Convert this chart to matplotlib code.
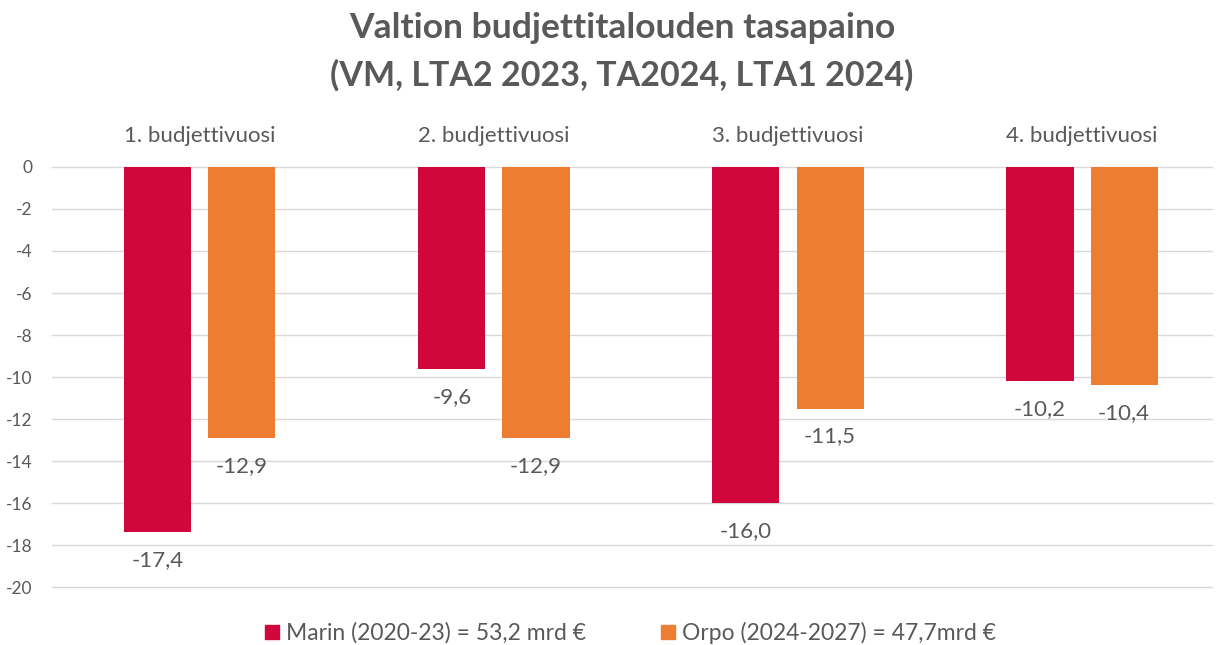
import matplotlib
matplotlib.use("Agg")
import matplotlib.pyplot as plt
import numpy as np
from matplotlib.patches import Patch

categories = ["1. budjettivuosi", "2. budjettivuosi", "3. budjettivuosi", "4. budjettivuosi"]
marin = [-17.4, -9.6, -16.0, -10.2]
orpo = [-12.9, -12.9, -11.5, -10.4]
series_names = ["Marin (2020-23) = 53,2 mrd €", "Orpo (2024-2027) = 47,7mrd €"]
yticks = [0, -2, -4, -6, -8, -10, -12, -14, -16, -18, -20]

plt.rcParams['font.family'] = ['Lato', 'DejaVu Sans']
gray = '#595959'
c_marin = '#D0073A'
c_orpo = '#ED7D31'

fig = plt.figure(figsize=(12.22, 6.45), dpi=100)
ax = fig.add_axes([52/1222, 58/645, (1212-52)/1222, (587-167)/645])

x = np.arange(len(categories))
w = 0.228
off = 0.143
b1 = ax.bar(x - off, marin, w, color=c_marin, zorder=3)
b2 = ax.bar(x + off, orpo, w, color=c_orpo, zorder=3)

def fmt(v):
    return f"{v:.1f}".replace('.', ',')

for bars, vals in ((b1, marin), (b2, orpo)):
    for r, v in zip(bars, vals):
        ax.annotate(fmt(v), (r.get_x() + r.get_width()/2, v), xytext=(0, -13),
                    textcoords='offset points', ha='center', va='top',
                    fontsize=16, color=gray)

ax.set_ylim(-20, 0)
ax.set_xlim(-0.503, 3.442)
ax.set_yticks(yticks)
ax.set_yticklabels([str(t) for t in yticks], fontsize=12.5, color=gray)
ax.yaxis.grid(True, color='#D9D9D9', linewidth=1, zorder=0)
for gl in ax.get_ygridlines():
    gl.set_clip_on(False)
ax.tick_params(axis='y', length=0, pad=14)
ax.xaxis.tick_top()
ax.set_xticks(x)
ax.set_xticklabels(categories, fontsize=16, color=gray)
ax.tick_params(axis='x', length=0, pad=15)
for s in ax.spines.values():
    s.set_visible(False)

fig.text(0.509, 1 - 28/645, "Valtion budjettitalouden tasapaino", ha='center', va='center',
         fontsize=25.5, fontweight='bold', color=gray)
fig.text(0.509, 1 - 75/645, "(VM, LTA2 2023, TA2024, LTA1 2024)", ha='center', va='center',
         fontsize=24.5, fontweight='bold', color=gray)

handles = [Patch(color=c_marin), Patch(color=c_orpo)]
fig.legend(handles, series_names, loc='center', bbox_to_anchor=(0.516, 1 - 633/645),
           ncol=2, frameon=False, fontsize=16.5, labelcolor=gray,
           handlelength=0.6, handleheight=0.6, handletextpad=0.3, columnspacing=3.3)

fig.savefig("out.png", dpi=100, facecolor='white')
